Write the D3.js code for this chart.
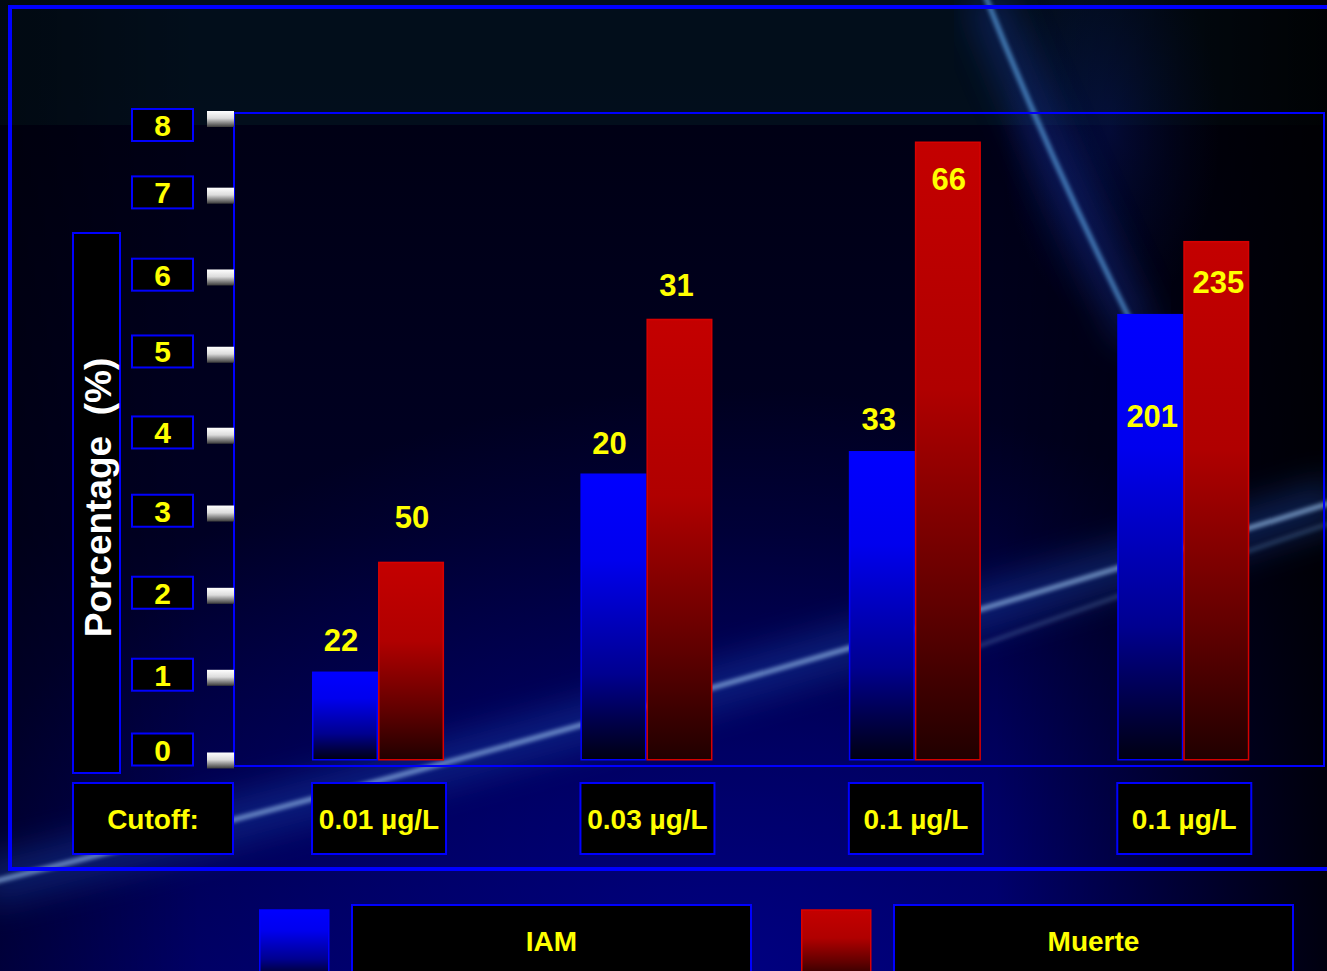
<!DOCTYPE html>
<html><head><meta charset="utf-8">
<script src="https://cdn.jsdelivr.net/npm/d3@7"></script>
<style>html,body{margin:0;padding:0;background:#000014;overflow:hidden}svg{display:block}</style>
</head><body><svg id="c" width="1327" height="971"></svg>
<script>
// ---------- data ----------
const categories = ["0.01 µg/L", "0.03 µg/L", "0.1 µg/L", "0.1 µg/L"];
const seriesNames = ["IAM", "Muerte"];
const iamValues = [1.1, 3.57, 3.85, 5.56];
const muerteValues = [2.47, 5.5, 7.71, 6.47];
const iamLabels = ["22", "20", "33", "201"];
const muerteLabels = ["50", "31", "66", "235"];
const yTickValues = [0, 1, 2, 3, 4, 5, 6, 7, 8];
const yTitle = "Porcentage  (%)";
const cutoffLabel = "Cutoff:";

// ---------- layout ----------
const W = 1327, H = 971;
const FONT = "'Liberation Sans', Arial, Helvetica, sans-serif";
const YELLOW = "#ffff00", BLUE = "#0000ff";
const plot = {left: 234, top: 113, right: 1324, bottom: 766};
const barLabelDy = {IAM: [-21, -20, -22, 112], Muerte: [-34, -23, 48, 51]};
const barLabelDx = {IAM: [-4, -4, -3, 2], Muerte: [1, -3, 1, 2]};
// hand-placed offsets of the original slide's tick marks / tick boxes
const tickMarkDy = [0, -2.5, -4.3, -6.4, -4, -4.8, -1.9, -3.5, 0];
const tickBoxDy = [-11, -5.6, -7.4, -9.2, -7.3, -8.1, -4.7, -6.8, 6];

const svg = d3.select("#c");
const defs = svg.append("defs");

function linGrad(id, stops, vertical = true) {
  const g = defs.append("linearGradient").attr("id", id)
    .attr("x1", 0).attr("y1", 0).attr("x2", vertical ? 0 : 1).attr("y2", vertical ? 1 : 0);
  stops.forEach(([o, c, a]) => g.append("stop").attr("offset", o).attr("stop-color", c).attr("stop-opacity", a == null ? 1 : a));
}
linGrad("gBlue", [[0, "#0000ff"], [0.3, "#0000ee"], [0.7, "#000090"], [1, "#000012"]]);
linGrad("gRed", [[0, "#c40000"], [0.4, "#b00000"], [0.75, "#600000"], [1, "#200000"]]);
linGrad("gTick", [[0, "#ffffff"], [0.45, "#dcdcdc"], [1, "#3a3a3a"]]);
linGrad("gBg", [[0, "#000010"], [0.55, "#000024"], [1, "#000058"]]);
linGrad("gBgH", [[0, "#000000", 0.35], [0.15, "#000000", 0], [0.75, "#000000", 0], [1, "#000000", 0.85]], false);
const rg = defs.append("radialGradient").attr("id", "gGlow").attr("cx", 0.55).attr("cy", 1).attr("r", 0.6);
rg.append("stop").attr("offset", 0).attr("stop-color", "#00008a").attr("stop-opacity", 0.8);
rg.append("stop").attr("offset", 1).attr("stop-color", "#00008a").attr("stop-opacity", 0);
const rg2 = defs.append("radialGradient").attr("id", "gGlow2").attr("cx", 0.5).attr("cy", 0.5).attr("r", 0.5);
rg2.append("stop").attr("offset", 0).attr("stop-color", "#0a2090").attr("stop-opacity", 0.45);
rg2.append("stop").attr("offset", 1).attr("stop-color", "#0a2090").attr("stop-opacity", 0);
[["b2", 2], ["b6", 6], ["b18", 18]].forEach(([id, s]) =>
  defs.append("filter").attr("id", id).attr("x", "-20%").attr("y", "-20%").attr("width", "140%").attr("height", "140%")
    .append("feGaussianBlur").attr("stdDeviation", s));

// ---------- background ----------
const bg = svg.append("g");
bg.append("rect").attr("width", W).attr("height", H).attr("fill", "url(#gBg)");
bg.append("rect").attr("width", W).attr("height", H).attr("fill", "url(#gGlow)");
bg.append("rect").attr("width", W).attr("height", 125).attr("fill", "#02111d").attr("opacity", 0.85);
bg.append("ellipse").attr("cx", 1110).attr("cy", 130).attr("rx", 110).attr("ry", 190).attr("fill", "url(#gGlow2)");
bg.append("rect").attr("width", W).attr("height", H).attr("fill", "url(#gBgH)");
// light streaks
const streakLow = "M -20 885 Q 600 730 1340 500";
const streakLow2 = "M 860 690 Q 1100 600 1340 520";
const streakTop = "M 985 -5 Q 1050 160 1140 340";
bg.append("path").attr("d", streakLow).attr("fill", "none").attr("stroke", "#1a4ab0").attr("stroke-width", 40).attr("opacity", 0.45).attr("filter", "url(#b18)");
bg.append("path").attr("d", streakLow).attr("fill", "none").attr("stroke", "#9cc4f0").attr("stroke-width", 5).attr("opacity", 0.7).attr("filter", "url(#b2)");
bg.append("path").attr("d", streakLow2).attr("fill", "none").attr("stroke", "#6a90c0").attr("stroke-width", 4).attr("opacity", 0.35).attr("filter", "url(#b2)");
bg.append("path").attr("d", streakTop).attr("fill", "none").attr("stroke", "#1a3ab0").attr("stroke-width", 36).attr("opacity", 0.4).attr("filter", "url(#b18)");
bg.append("path").attr("d", streakTop).attr("fill", "none").attr("stroke", "#5aa0e0").attr("stroke-width", 5).attr("opacity", 0.75).attr("filter", "url(#b2)");

// outer frame
svg.append("rect").attr("x", 10).attr("y", 7).attr("width", 1340).attr("height", 862)
  .attr("fill", "none").attr("stroke", BLUE).attr("stroke-width", 4);

// ---------- scales ----------
const y = d3.scaleLinear().domain([0, 8]).range([760.5, 119]);
const x0 = d3.scaleBand().domain(d3.range(categories.length)).range([312, 1249.3]).paddingInner(0.508).paddingOuter(0);
const x1 = d3.scaleBand().domain(seriesNames).range([0, x0.bandwidth()]).padding(0);

// plot area frame
svg.append("rect").attr("x", plot.left).attr("y", plot.top)
  .attr("width", plot.right - plot.left).attr("height", plot.bottom - plot.top)
  .attr("fill", "none").attr("stroke", BLUE).attr("stroke-width", 2);

// ---------- y axis ----------
const yAxis = svg.append("g");
const tk = yAxis.selectAll("g.tick").data(yTickValues).join("g").attr("class", "tick");
tk.append("rect").attr("x", 207).attr("y", (d, i) => y(d) + tickMarkDy[i] - 8).attr("width", 27).attr("height", 16).attr("fill", "url(#gTick)");
tk.append("rect").attr("x", 132).attr("y", (d, i) => y(d) + tickBoxDy[i] - 16).attr("width", 61).attr("height", 32)
  .attr("fill", "#000").attr("stroke", BLUE).attr("stroke-width", 2);
tk.append("text").attr("x", 162.5).attr("y", (d, i) => y(d) + tickBoxDy[i] + 11)
  .attr("text-anchor", "middle").attr("fill", YELLOW).attr("font-family", FONT).attr("font-weight", "bold")
  .attr("font-size", 30).text(d => d);

// y title
svg.append("rect").attr("x", 73).attr("y", 233).attr("width", 47).attr("height", 540)
  .attr("fill", "#000").attr("stroke", BLUE).attr("stroke-width", 2);
svg.append("text").attr("transform", "translate(111,497.5) rotate(-90)")
  .attr("text-anchor", "middle").attr("fill", "#ffffff").attr("font-family", FONT).attr("font-weight", "bold")
  .attr("font-size", 37).style("white-space", "pre").text(yTitle);

// ---------- bars ----------
const rows = categories.map((c, i) => ({i, c, vals: [
  {s: "IAM", v: iamValues[i], lab: iamLabels[i]},
  {s: "Muerte", v: muerteValues[i], lab: muerteLabels[i]}]}));
const grp = svg.append("g").selectAll("g").data(rows).join("g").attr("transform", d => `translate(${x0(d.i)},0)`);
grp.selectAll("rect").data(d => d.vals).join("rect")
  .attr("x", d => x1(d.s) + 0.75).attr("width", x1.bandwidth() - 1.5)
  .attr("y", d => y(d.v)).attr("height", d => y(0) - y(d.v) - 0.75)
  .attr("fill", d => d.s === "IAM" ? "url(#gBlue)" : "url(#gRed)")
  .attr("stroke", d => d.s === "IAM" ? "#0000ff" : "#d80000").attr("stroke-width", 1.5);
grp.selectAll("text").data(d => d.vals.map(v => Object.assign({i: d.i}, v))).join("text")
  .attr("x", d => x1(d.s) + x1.bandwidth() / 2 + barLabelDx[d.s][d.i])
  .attr("y", d => y(d.v) + barLabelDy[d.s][d.i])
  .attr("text-anchor", "middle").attr("fill", YELLOW).attr("font-family", FONT).attr("font-weight", "bold")
  .attr("font-size", 31).text(d => d.lab);

// ---------- x category boxes ----------
const xAxis = svg.append("g");
const cat = xAxis.selectAll("g").data(rows).join("g");
cat.append("rect").attr("x", d => x0(d.i) + x0.bandwidth() / 2 - 66).attr("y", 783).attr("width", 134).attr("height", 71)
  .attr("fill", "#000").attr("stroke", BLUE).attr("stroke-width", 2);
cat.append("text").attr("x", d => x0(d.i) + x0.bandwidth() / 2 + 1).attr("y", 829)
  .attr("text-anchor", "middle").attr("fill", YELLOW).attr("font-family", FONT).attr("font-weight", "bold")
  .attr("font-size", 28).text(d => d.c);
xAxis.append("rect").attr("x", 73).attr("y", 783).attr("width", 160).attr("height", 71)
  .attr("fill", "#000").attr("stroke", BLUE).attr("stroke-width", 2);
xAxis.append("text").attr("x", 153).attr("y", 829).attr("text-anchor", "middle").attr("fill", YELLOW)
  .attr("font-family", FONT).attr("font-weight", "bold").attr("font-size", 28).text(cutoffLabel);

// ---------- legend ----------
const legendX = {IAM: 259, Muerte: 801};
const lg = svg.append("g").selectAll("g").data(seriesNames).join("g");
lg.append("rect").attr("x", d => legendX[d] + 0.75).attr("y", 910).attr("width", 69).attr("height", 70)
  .attr("fill", d => d === "IAM" ? "url(#gBlue)" : "url(#gRed)")
  .attr("stroke", d => d === "IAM" ? "#0000ff" : "#d80000").attr("stroke-width", 1.5);
lg.append("rect").attr("x", d => legendX[d] + 93).attr("y", 905).attr("width", 399).attr("height", 80)
  .attr("fill", "#000").attr("stroke", BLUE).attr("stroke-width", 2);
lg.append("text").attr("x", d => legendX[d] + 292.5).attr("y", 951).attr("text-anchor", "middle").attr("fill", YELLOW)
  .attr("font-family", FONT).attr("font-weight", "bold").attr("font-size", 28).text(d => d);
</script></body></html>
